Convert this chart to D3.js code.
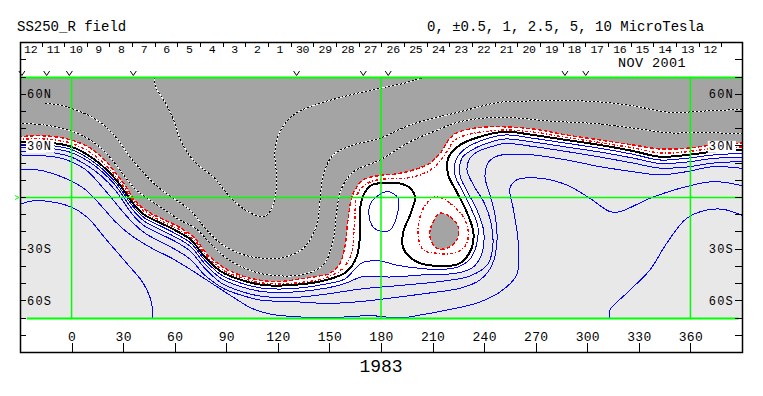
<!DOCTYPE html>
<html>
<head>
<meta charset="utf-8">
<script src="https://cdn.jsdelivr.net/npm/d3@7"></script>
<style>
  body { margin: 0; background: #fff; }
  svg text { font-family: "Liberation Mono", "DejaVu Sans Mono", monospace; fill: #000; }
</style>
</head>
<body>
<svg id="chart" width="763" height="396"></svg>
<script>
// Contour lines, as [longitude, latitude]
const negInner = [[48,70],[49.3,63.4],[54.2,55.6],[59,45.9],[63.8,32.4],[71.6,20.8],[83.2,11.2],[92.9,-0.5],[102.6,-8.2],[111.3,-11.2],[115.4,-8.2],[118.3,-0.5],[119.3,11.2],[118.3,26.6],[121.2,38.2],[129,47.9],[138.7,52.7],[158.1,58.6],[179.4,63.4],[193,66.3],[205.6,70]]
const negMiddle = [[-15.5,54.7],[-6.7,53.7],[-0.2,51.8],[10.7,47.3],[19.4,41.5],[27,33.4],[34,23.5],[41.5,14.8],[50.3,6.1],[59,-0.3],[68.9,-7.3],[77.6,-17.7],[86.3,-26.4],[95.6,-31.6],[104.4,-34.4],[111.3,-35.3],[121.2,-35.3],[134.8,-29.5],[142.6,-16],[144.5,-2.4],[146.4,13.1],[152.2,24.7],[163.9,30.5],[179.4,34.4],[196.9,42.1],[225.9,49.8],[249.2,55.3],[268.6,56.1],[288,56.3],[307.4,55.5],[326.7,53.2],[348.1,49.4],[361.5,49.8],[373.1,50.5],[391,51.1]]
const negOuter = [[-31,43.1],[-15.6,42.1],[-2.1,39.2],[7.6,35.3],[17.3,28.6],[25.1,20],[31.6,11.3],[37.5,4.4],[45.6,-1.5],[54.3,-7.3],[63,-13.1],[71.8,-17.7],[80.5,-26.4],[89.2,-34.6],[97.9,-39.8],[111.3,-44.4],[132.9,-45],[146.4,-39.2],[152.2,-24.7],[154.2,-8.4],[156.7,4.4],[163.9,14.8],[179.4,21.8],[196.9,32.4],[210.4,38.2],[225.9,44],[249.2,46.6],[278.4,44.4],[307.4,42.7],[332.4,39.5],[348.1,37.5],[365.6,37.8],[391,36.9]]
const redDashed = [[-31,35.3],[-19.5,35.9],[-9.8,35.3],[-0.2,33.4],[9.5,29.5],[17.3,23.6],[25.1,15],[30.9,7.3],[36.7,-1.5],[44.4,-8.2],[54.2,-13.1],[63.8,-17.9],[71.6,-23.7],[79.3,-33.4],[89.1,-41.1],[100.7,-46],[111.3,-48.3],[121.2,-48.8],[132.9,-47.3],[144.5,-45.5],[150.3,-44],[156.1,-38.2],[159,-28.6],[161,-11.2],[163.9,2.4],[169.7,10.2],[179.4,12.8],[189.1,13.7],[200.7,16.6],[208.5,20],[214.9,26.4],[222,36.3],[233.7,40.2],[249.2,41.1],[268.6,39.8],[288,36.3],[307.4,33.4],[326.7,30.5],[342.2,28.2],[357.8,28.6],[373.3,30.5],[391,31.7]]
const redDotted = [[-31,33.7],[-19.5,34.2],[-9.8,33.4],[-0.2,31.5],[9.5,27],[17.3,21.2],[25.1,13.1],[30.9,5.3],[36.3,-2.4],[43.7,-9.2],[53.2,-14.1],[63.1,-18.9],[70.6,-24.1],[78.6,-34],[88.1,-42.1],[99.7,-46.9],[111.3,-49.7],[128.8,-49.8],[148.4,-46.5],[157.9,-41],[162.9,-32.2],[164.3,-18.9],[164.9,-11.2],[165.5,-0.3],[167.8,4.4],[172.4,8.4],[179.4,10.5],[194.9,11.3],[205.6,14.2],[212.4,18.9],[218.2,26.4],[223,33.4],[231.8,36.9],[243.4,38.6],[252.1,39.2],[268.6,38],[288,34.9],[307.4,31.9],[326.7,28.8],[342.2,25.9],[357.8,26.6],[373.3,28.6],[391,29.3]]
const zeroLine = [[-31,32.4],[-9.8,31.5],[-0.2,29.5],[9.5,24.7],[17.3,18.9],[25.1,11.2],[30.9,3.4],[35.7,-3.4],[42.5,-10.2],[52.2,-15],[61.9,-19.9],[69.6,-24.7],[77.4,-34.4],[87.1,-43.1],[98.7,-47.9],[111.3,-50.8],[129,-50.8],[148.4,-47.9],[160,-43.1],[165.8,-34.4],[167.8,-21.8],[167.8,-6.3],[170.7,3.2],[174.7,7.3],[181.3,8.4],[191,8.1],[196.9,5.5],[199.8,0.3],[196.9,-10.2],[193,-19.9],[193,-29.5],[200.7,-37.3],[214.3,-39.8],[225.9,-38.2],[232.7,-29.5],[233.7,-19.9],[229.8,-8.2],[224,3.4],[219.1,13.1],[219.1,22.8],[225.9,30.5],[237.6,35.3],[252.1,38.2],[268.6,36.3],[288,33.4],[307.4,30.5],[326.7,27],[342.2,23.7],[357.8,24.7],[373.3,26.6],[391,27.6]]
const blue1 = [[-31,30.8],[-9.8,29.9],[-0.2,27.9],[9.5,22.9],[17.3,17.1],[25.1,9.3],[30.9,1.5],[35.7,-5.2],[42.5,-11.9],[52.2,-16.8],[61.9,-21.8],[69.6,-26.7],[77.4,-36.3],[87.1,-45],[98.7,-49.8],[111.3,-52.7],[129,-52.9],[148.4,-50.2],[159,-47.3],[168.9,-38],[179.4,-36.9],[188.7,-39.2],[202.7,-41.2],[214.3,-41.8],[224.8,-40.4],[231.8,-35.7],[235.2,-28.8],[236.4,-17.1],[232.3,-6.1],[227.1,4.4],[223,13.1],[223.6,21.8],[228.8,28.2],[239.3,33.4],[252.1,36.3],[268.6,34.4],[288,31.5],[307.4,28.6],[326.7,25.1],[342.2,21.8],[357.8,22.8],[373.3,24.7],[391,25.7]]
const blue2 = [[-31,29],[-9.8,28.2],[-0.2,26.1],[9.5,21.2],[17.3,15.4],[25.1,7.6],[30.9,-0.6],[35.7,-7.3],[42.5,-13.9],[52.2,-18.9],[61.9,-23.8],[69.6,-28.8],[77.4,-38.3],[87.1,-47.1],[98.7,-51.8],[111.3,-54.7],[129,-54.9],[148.4,-52.6],[159,-50],[169.5,-45.9],[185.2,-46.2],[208.5,-44.7],[223,-44.1],[232.9,-41],[238.1,-34],[239.8,-20],[235.8,-7.3],[230,3.8],[225.9,13.1],[227.1,22.9],[232.9,27.6],[242.2,31.7],[252.1,34],[268.6,32.2],[288,29.3],[307.4,26.4],[326.7,22.9],[342.2,19.8],[357.8,20.6],[373.3,22.7],[391,23.5]]
const blue3 = [[-31,27],[-9.8,25.9],[-0.2,23.5],[9.5,18.3],[17.3,12.5],[25.1,4.6],[30.9,-3.5],[35.7,-10.2],[42.5,-16.6],[52.2,-21.5],[61.9,-26.4],[69.6,-31.7],[77.4,-41],[87.1,-49.7],[98.7,-54.6],[111.3,-57.5],[129,-58.1],[148.4,-56.1],[167.8,-53.2],[191,-51.1],[214.3,-48.8],[231.8,-45.6],[242.2,-38.6],[245.1,-27.6],[243.9,-14.2],[239.8,-2.6],[234.1,6.7],[230,16],[231.8,22.9],[236.4,26.7],[244.6,29.6],[252.1,31.4],[268.6,29.6],[288,26.7],[307.4,23.5],[326.7,20],[342.2,17.1],[357.8,17.7],[373.3,20],[391,20.9]]
const blue4 = [[-31,24.7],[-19.5,24.4],[-6,22.8],[7.6,16.6],[19.3,4.4],[27,-4.9],[34.7,-13.7],[42.5,-20.6],[52.2,-25.9],[61.9,-31.1],[69.6,-36.3],[77.4,-45],[89.1,-53.2],[104.5,-58.4],[111.3,-59.8],[129,-60.5],[148.4,-61.5],[167.8,-60.5],[187.1,-58.2],[206.6,-55.7],[225.9,-52.7],[237.6,-47.9],[244.6,-39.2],[247.5,-24.7],[246.3,-10.2],[243.4,1.5],[240.5,11.9],[242.2,20],[246.9,23.8],[252.1,25],[268.6,24.7],[288,21.8],[307.4,17.9],[326.7,15],[342.2,13.1],[357.8,15],[373.3,17.9],[391,16.8]]
const blue5 = [[-31,16],[-19.5,16],[-4,11.3],[7.6,4.9],[17.3,-4.9],[25.1,-13.7],[32.8,-20.6],[46.4,-29.3],[58,-35.1],[69.6,-42.1],[81.3,-49.7],[92.9,-57.2],[104.5,-64.2],[115.4,-67.7],[132.9,-69.4],[150.3,-69.7],[164.9,-69.1],[173.6,-68.5],[182.3,-69.4],[193.9,-69.7],[202.7,-68.3],[218.4,-65.4],[235.8,-61.3],[249.2,-54.9],[258.9,-45],[259.8,-25.7],[256.9,-6.3],[255,5.3],[258.9,10.2],[272.5,11.2],[288,7.3],[301.6,-0.5],[313.2,-8.2],[319,-8.2],[336.4,-0.5],[353.8,5.3],[373.3,9.2],[391,6.7]]
const blue6 = [[-31,-4.4],[-22.3,-1.9],[-12.6,-2.4],[-0.9,-5.3],[8.8,-11.2],[20.4,-24.7],[32.1,-38.2],[41.7,-49.8],[46.6,-61.5],[46.9,-71]]
const blue7 = [[313.2,-71],[313.2,-65.4],[322.9,-55.6],[336.4,-42.1],[346.2,-26.6],[357.8,-12.1],[369.4,-7.3],[379.1,-6.9],[391,-10.7]]
// Closed loops
const blueLoop = [[184.2,3.4],[190,-0.5],[189.1,-11.2],[185.2,-18.9],[179.4,-19.5],[174.6,-16],[173.2,-5.3],[177.5,0.5]]
const islandCore = [[214.3,-9.2],[220.1,-11.2],[224.9,-17],[224,-24.7],[218.2,-29.5],[212.4,-29.5],[208.5,-22.8],[209.5,-16]]
const islandRing = [[212.4,0.5],[220.1,-3.4],[227.9,-11.2],[230.8,-20.8],[228.8,-28.6],[222,-32.4],[212.4,-32.4],[204.6,-30.5],[201.7,-22.8],[202.7,-11.2],[206.6,-3.4]]

// Axes and annotations
const lonTicks = [0, 30, 60, 90, 120, 150, 180, 210, 240, 270, 300, 330, 360]
const latTicks = [80, 70, 60, 50, 40, 30, 20, 10, 0, -10, -20, -30, -40, -50, -60, -70, -80]
const latLabels = [{ lat: 60, text: "60N" }, { lat: 30, text: "30N" }, { lat: -30, text: "30S" }, { lat: -60, text: "60S" }]
const days = [12, 11, 10, 9, 8, 7, 6, 5, 4, 3, 2, 1, 30, 29, 28, 27, 26, 25, 24, 23, 22, 21, 20, 19, 18, 17, 16, 15, 14, 13, 12]
const dayStartLon = -17.2
const degPerDay = 13.18
const obsMarks = [-28.9, -14.5, -1.3, 35.9, 130.9, 169.7, 184.2, 287, 299.1]
const greenLons = [0, 180, 360]

const svg = d3.select("#chart")
const x = d3.scaleLinear().domain([-30, 390]).range([20, 742])
const y = d3.scaleLinear().domain([70, -70]).range([77, 318])
const boxTop = 42, boxBottom = 352
// snap a coordinate to the middle of a pixel for sharp 1px lines
const px = v => Math.round(v - 0.5) + 0.5

const line = d3.line().x(d => x(d[0])).y(d => y(d[1])).curve(d3.curveCatmullRom.alpha(0.5))
const loop = d3.line().x(d => x(d[0])).y(d => y(d[1])).curve(d3.curveCatmullRomClosed.alpha(0.5))
// area above a contour, closed along the top of the map
const capAbove = pts => line(pts) + `L${x(392)},${y(72)}L${x(-32)},${y(72)}Z`

svg.append("defs").append("clipPath").attr("id", "map")
  .append("rect")
  .attr("x", x(-30)).attr("y", y(70))
  .attr("width", x(390) - x(-30)).attr("height", y(-70) - y(70))

const map = svg.append("g").attr("clip-path", "url(#map)")

// Fills: light grey background, white band, dark grey negative region
map.append("rect")
  .attr("x", x(-30)).attr("y", y(70))
  .attr("width", x(390) - x(-30)).attr("height", y(-70) - y(70))
  .style("fill", "#e8e8e8")
map.append("path").attr("d", capAbove(blue2)).style("fill", "#fff")
map.append("path").attr("d", capAbove(redDashed)).style("fill", "#a4a4a4")
map.append("path").attr("d", loop(islandCore)).style("fill", "#a4a4a4")

const contours = map.append("g").attr("shape-rendering", "crispEdges").style("fill", "none")

// Negative contours: black dashes on white
;[negInner, negMiddle, negOuter].forEach(pts => {
  contours.append("path").attr("d", line(pts))
    .style("stroke", "#fff").style("stroke-width", 1)
  contours.append("path").attr("d", line(pts))
    .style("stroke", "#000").style("stroke-width", 1)
    .style("stroke-dasharray", "2,2")
})

// Blue positive contours
;[blue1, blue2, blue3, blue4, blue5, blue6, blue7].forEach(pts => {
  contours.append("path").attr("d", line(pts))
    .style("stroke", "#0000ff").style("stroke-width", 1)
})
contours.append("path").attr("d", loop(blueLoop))
  .style("stroke", "#0000ff").style("stroke-width", 1)

// Red contours
contours.append("path").attr("d", line(redDashed))
  .style("stroke", "#ff0000").style("stroke-width", 1.4).style("stroke-dasharray", "4,2")
contours.append("path").attr("d", line(redDotted))
  .style("stroke", "#ff0000").style("stroke-width", 1.4).style("stroke-dasharray", "3,2,1,2")
contours.append("path").attr("d", loop(islandCore))
  .style("stroke", "#ff0000").style("stroke-width", 1.4).style("stroke-dasharray", "4,2")
contours.append("path").attr("d", loop(islandRing))
  .style("stroke", "#ff0000").style("stroke-width", 1.4).style("stroke-dasharray", "3,2,1,2")

// Zero line
contours.append("path").attr("d", line(zeroLine))
  .style("stroke", "#000").style("stroke-width", 2)

// Green reference lines
const green = svg.append("g").style("stroke", "#00ff00").style("stroke-width", 1.5)
greenLons.forEach(lon => {
  green.append("line").attr("x1", x(lon)).attr("x2", x(lon)).attr("y1", y(70)).attr("y2", y(-70))
})
green.append("line").attr("x1", x(-30)).attr("x2", x(390)).attr("y1", y(0)).attr("y2", y(0))
green.append("line").attr("x1", x(-30)).attr("x2", x(390)).attr("y1", px(y(70))).attr("y2", px(y(70)))
  .style("stroke-width", 2)
green.append("line").attr("x1", x(-26)).attr("x2", x(388)).attr("y1", px(y(-70))).attr("y2", px(y(-70)))
  .style("stroke-width", 2)
green.append("path")
  .attr("d", `M${x(-30) - 5},${y(0) - 2}L${x(-30) - 1},${y(0)}L${x(-30) - 5},${y(0) + 2}`)
  .style("fill", "none").style("stroke-width", 1)

// Latitude labels on both sides
latLabels.forEach(d => {
  const left = svg.append("text").attr("x", x(-30) + 7).attr("y", y(d.lat) + 4)
    .style("font-size", "12px").style("letter-spacing", "1.2px").text(d.text)
  const right = svg.append("text").attr("x", x(390) - 8).attr("y", y(d.lat) + 4)
    .attr("text-anchor", "end")
    .style("font-size", "12px").style("letter-spacing", "1.2px").text(d.text)
  if (d.lat === 30) {
    [left, right].forEach(t => {
      const b = t.node().getBBox()
      svg.insert("rect", "text").attr("x", b.x - 1).attr("y", b.y + 1).attr("width", b.width + 3).attr("height", b.height - 2)
        .style("fill", "#fff")
    })
  }
})

// Latitude ticks
const ticks = svg.append("g").style("stroke", "#000").style("stroke-width", 1)
latTicks.forEach(lat => {
  ticks.append("line").attr("x1", x(-30)).attr("x2", x(-30) + 6).attr("y1", px(y(lat))).attr("y2", px(y(lat)))
  ticks.append("line").attr("x1", x(390) - 7).attr("x2", x(390)).attr("y1", px(y(lat))).attr("y2", px(y(lat)))
})

// Longitude axis along the bottom of the frame
const xAxis = svg.append("g")
  .attr("transform", `translate(0,${boxBottom})`)
  .call(d3.axisTop(x).tickValues(lonTicks).tickSize(9).tickPadding(2).tickFormat(d3.format("d")))
xAxis.select(".domain").remove()
xAxis.selectAll("line").attr("shape-rendering", "crispEdges")
xAxis.selectAll("text")
  .style("font-family", "Liberation Mono, DejaVu Sans Mono, monospace")
  .style("font-size", "13px").style("letter-spacing", "0.3px")

// Date row: day boundaries and day numbers
const dayTicks = d3.range(days.length).map(k => dayStartLon + degPerDay * k)
dayTicks.forEach(lon => {
  ticks.append("line").attr("x1", px(x(lon))).attr("x2", px(x(lon))).attr("y1", boxTop).attr("y2", boxTop + 5)
})
svg.append("g").selectAll("text")
  .data(days)
  .enter()
  .append("text")
  .attr("x", (d, i) => x(dayStartLon + degPerDay * (i - 0.5)))
  .attr("y", boxTop + 11)
  .attr("text-anchor", "middle")
  .style("font-size", "11.5px").style("letter-spacing", "-0.3px")
  .text(d => d)

svg.append("text").attr("x", 618).attr("y", 67).style("font-size", "13.5px").style("letter-spacing", "0.4px").text("NOV 2001")

// Observation markers above the map
svg.append("g").selectAll("path")
  .data(obsMarks)
  .enter()
  .append("path")
  .attr("d", d => `M${x(d) - 3},${y(70) - 6}L${x(d)},${y(70) - 1.5}L${x(d) + 3},${y(70) - 6}`)
  .style("fill", "none").style("stroke", "#000").style("stroke-width", 1)

// Frame
svg.append("rect")
  .attr("x", px(x(-30))).attr("y", px(boxTop))
  .attr("width", Math.round(x(390) - x(-30))).attr("height", boxBottom - boxTop)
  .style("fill", "none").style("stroke", "#000").style("stroke-width", 1.5)

// Titles
svg.append("text").attr("x", 17).attr("y", 31).style("font-size", "14px").text("SS250_R field")
svg.append("text").attr("x", 427).attr("y", 31).style("font-size", "14px").text("0, ±0.5, 1, 2.5, 5, 10 MicroTesla")
svg.append("text").attr("x", 381).attr("y", 372).attr("text-anchor", "middle").style("font-size", "18px").text("1983")
</script>
</body>
</html>
